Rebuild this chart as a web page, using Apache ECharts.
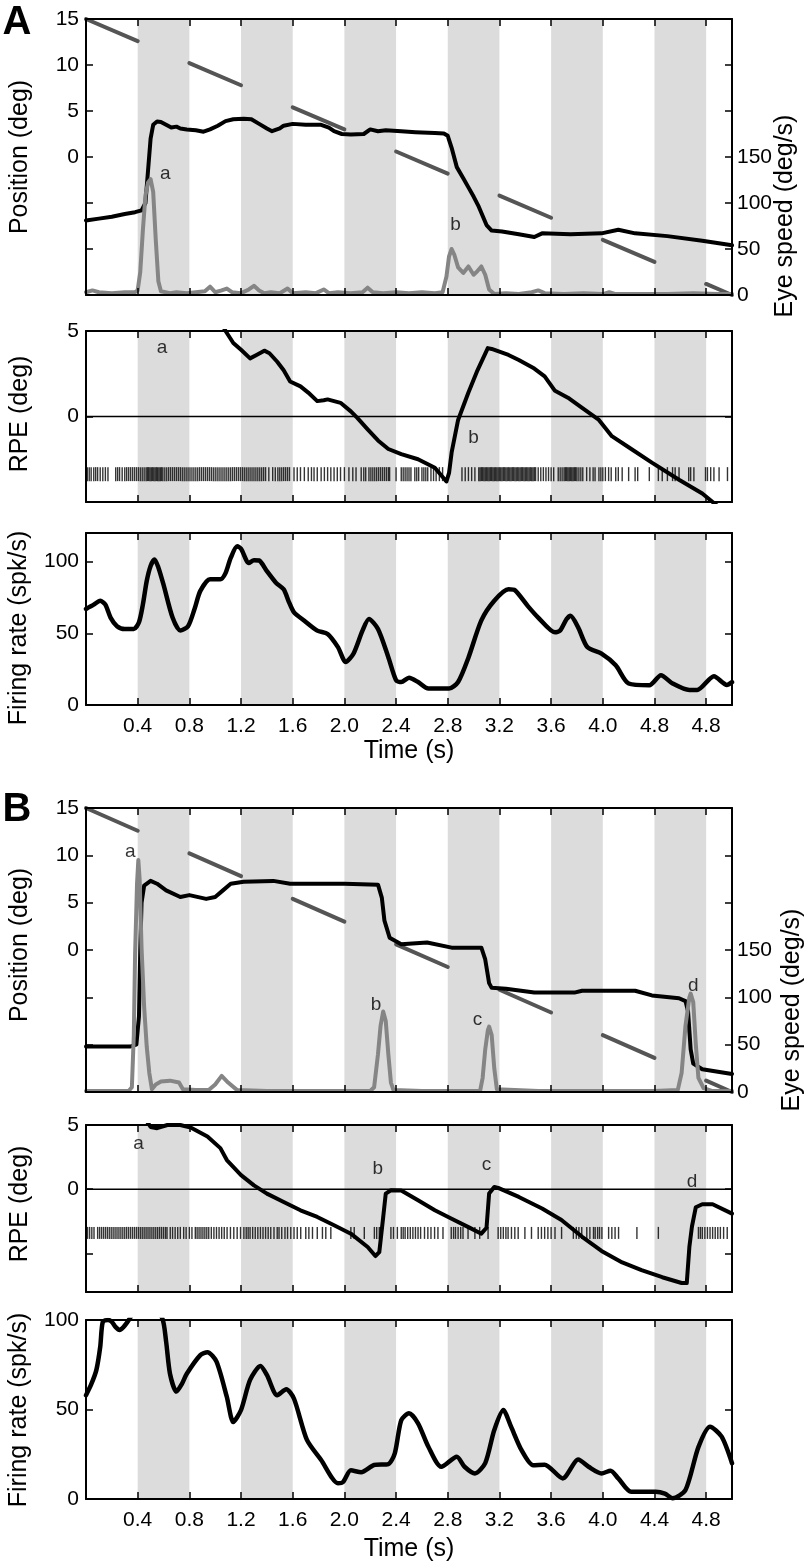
<!DOCTYPE html>
<html><head><meta charset="utf-8">
<script src="https://cdn.jsdelivr.net/npm/echarts@6/dist/echarts.min.js"></script>
<style>html,body{margin:0;padding:0;background:#fff}#c{width:809px;height:1563px}</style>
</head><body><div id="c"></div>
<script>
// ---------------- DATA ----------------
const xTickVals = [0.4,0.8,1.2,1.6,2.0,2.4,2.8,3.2,3.6,4.0,4.4,4.8];
const xLabelsA = ['0.4','0.8','1.2','1.6','2.0','2.4','2.8','3.2','3.6','4.0','4.8','4.8'];
const xLabelsB = ['0.4','0.8','1.2','1.6','2.0','2.4','2.8','3.2','3.6','4.0','4.4','4.8'];
const bands = [[0.4,0.8],[1.2,1.6],[2.0,2.4],[2.8,3.2],[3.6,4.0],[4.4,4.8]];

// target position segments (visible only outside the gray periods)
const targetStartT = [0,0.8,1.6,2.4,3.2,4.0,4.8];
const targetEndT   = [0.4,1.2,2.0,2.8,3.6,4.4,5.0];
const targetStartPos = [15,10.2,5.4,0.6,-4.2,-9.0,-13.8];
const targetEndPos   = [12.6,7.8,3.0,-1.8,-6.6,-11.4,-15];

// ---- Panel A ----
const eyePosA = [[0,-6.9],[0.1,-6.7],[0.2,-6.5],[0.3,-6.2],[0.38,-6.0],[0.43,-5.8],[0.46,-5.0],[0.48,-1.5],[0.50,2.0],[0.52,3.5],[0.55,3.85],[0.58,3.8],[0.62,3.5],[0.66,3.2],[0.70,3.3],[0.73,3.1],[0.78,3.0],[0.85,2.9],[0.91,2.75],[0.96,3.0],[1.02,3.4],[1.08,3.9],[1.14,4.1],[1.22,4.15],[1.28,4.1],[1.34,3.6],[1.40,3.1],[1.44,2.8],[1.50,3.1],[1.53,3.4],[1.60,3.6],[1.70,3.5],[1.82,3.5],[1.88,3.2],[1.92,2.8],[1.98,2.5],[2.05,2.45],[2.15,2.5],[2.20,3.0],[2.26,2.8],[2.32,2.9],[2.44,2.8],[2.55,2.7],[2.70,2.6],[2.77,2.55],[2.80,2.3],[2.83,1.0],[2.87,-1.1],[2.92,-2.3],[2.96,-3.3],[3.00,-4.3],[3.04,-5.4],[3.10,-7.4],[3.14,-8.0],[3.22,-8.1],[3.35,-8.4],[3.47,-8.7],[3.53,-8.3],[3.75,-8.4],[3.99,-8.3],[4.12,-7.9],[4.25,-8.3],[4.50,-8.6],[4.77,-9.1],[5.0,-9.6]];
const eyeSpeedA = [[0,3],[0.05,5],[0.1,3],[0.2,2],[0.3,3],[0.38,3],[0.40,5],[0.42,25],[0.44,70],[0.46,108],[0.48,122],[0.50,126],[0.52,112],[0.54,60],[0.56,15],[0.58,4],[0.65,2],[0.7,3],[0.78,2],[0.85,3],[0.92,4],[0.96,9],[1.0,3],[1.05,5],[1.09,7],[1.13,3],[1.2,2],[1.26,6],[1.30,10],[1.34,5],[1.38,2],[1.43,3],[1.50,2],[1.56,7],[1.60,2],[1.70,3],[1.78,2],[1.84,6],[1.88,2],[1.95,3],[2.05,2],[2.14,3],[2.18,8],[2.22,3],[2.3,2],[2.4,3],[2.5,2],[2.6,3],[2.7,2],[2.76,3],[2.79,20],[2.81,42],[2.83,50],[2.85,44],[2.88,30],[2.92,24],[2.96,31],[3.0,22],[3.03,26],[3.06,31],[3.09,22],[3.12,6],[3.16,1],[3.25,2],[3.35,1],[3.45,3],[3.5,5],[3.55,2],[3.7,1],[3.85,2],[4.0,1],[4.05,3],[4.1,1],[4.3,1],[4.5,1],[4.7,2],[4.9,1],[5.0,1]];
const rpeA = [[1.04,5.6],[1.08,5.0],[1.14,4.3],[1.2,3.9],[1.27,3.4],[1.32,3.6],[1.38,3.85],[1.42,3.7],[1.48,3.2],[1.53,2.7],[1.58,2.05],[1.66,1.76],[1.72,1.4],[1.79,0.9],[1.84,0.95],[1.87,1.0],[1.97,0.8],[2.05,0.3],[2.1,-0.08],[2.18,-0.75],[2.26,-1.4],[2.34,-1.9],[2.44,-2.2],[2.57,-2.5],[2.70,-3.0],[2.79,-3.8],[2.81,-3.3],[2.83,-2.1],[2.88,-0.2],[2.96,1.4],[3.03,2.7],[3.11,4.0],[3.14,3.95],[3.27,3.6],[3.35,3.3],[3.47,2.8],[3.55,2.35],[3.63,1.5],[3.73,1.1],[3.84,0.5],[3.97,-0.2],[4.07,-1.15],[4.2,-1.8],[4.38,-2.7],[4.59,-3.7],[4.77,-4.5],[4.85,-5.0],[4.9,-5.3]];
const spikesA = [0.01,0.025,0.04,0.06,0.075,0.09,0.11,0.13,0.15,0.17,0.23,0.245,0.26,0.28,0.30,0.315,0.33,0.345,0.36,0.375,0.39,0.405,0.42,0.435,0.45,0.465,0.475,0.485,0.495,0.505,0.515,0.525,0.535,0.545,0.555,0.565,0.575,0.585,0.595,0.61,0.625,0.64,0.655,0.67,0.685,0.70,0.715,0.73,0.745,0.76,0.775,0.79,0.805,0.82,0.835,0.85,0.865,0.88,0.895,0.91,0.925,0.94,0.955,0.97,0.985,1.0,1.015,1.03,1.045,1.06,1.075,1.09,1.105,1.12,1.135,1.15,1.165,1.18,1.195,1.21,1.225,1.24,1.255,1.27,1.285,1.30,1.315,1.33,1.345,1.36,1.375,1.39,1.415,1.445,1.465,1.485,1.50,1.515,1.53,1.545,1.56,1.575,1.61,1.635,1.66,1.69,1.72,1.745,1.765,1.79,1.82,1.845,1.87,1.895,1.92,1.945,1.97,2.0,2.035,2.065,2.09,2.13,2.15,2.165,2.19,2.205,2.22,2.235,2.25,2.265,2.28,2.295,2.31,2.325,2.34,2.35,2.40,2.44,2.455,2.47,2.485,2.50,2.515,2.545,2.56,2.575,2.60,2.615,2.63,2.645,2.67,2.69,2.71,2.735,2.76,2.91,2.935,2.96,2.985,3.01,3.04,3.05,3.06,3.07,3.08,3.09,3.10,3.11,3.12,3.13,3.14,3.15,3.16,3.17,3.18,3.19,3.20,3.21,3.22,3.23,3.24,3.25,3.26,3.27,3.28,3.29,3.30,3.31,3.32,3.33,3.34,3.35,3.36,3.37,3.38,3.39,3.40,3.41,3.42,3.43,3.44,3.45,3.46,3.47,3.48,3.50,3.52,3.54,3.56,3.58,3.60,3.62,3.655,3.67,3.685,3.70,3.71,3.72,3.73,3.74,3.75,3.76,3.77,3.78,3.79,3.80,3.815,3.83,3.845,3.875,3.90,3.925,3.94,3.97,3.985,4.0,4.02,4.045,4.065,4.10,4.12,4.15,4.20,4.25,4.27,4.36,4.43,4.46,4.50,4.54,4.56,4.59,4.665,4.68,4.705,4.795,4.81,4.835,4.86,4.90,4.965];
const rateA = [[0,67],[0.06,70],[0.11,72.7],[0.15,70],[0.19,61],[0.24,55],[0.30,53],[0.37,53],[0.41,57.7],[0.44,70],[0.47,86.5],[0.50,97],[0.53,101.5],[0.56,96],[0.6,84],[0.67,61],[0.73,52],[0.79,55],[0.84,67],[0.885,79.6],[0.96,87.7],[1.04,87.7],[1.08,92],[1.12,102.6],[1.17,110.7],[1.2,109],[1.26,99],[1.3,101],[1.34,100.8],[1.4,93.4],[1.47,85.3],[1.53,80.7],[1.57,72],[1.61,64.6],[1.69,58.8],[1.79,51.9],[1.87,49.6],[1.95,40.4],[2.01,30],[2.07,35.8],[2.14,51.9],[2.19,60],[2.26,53],[2.34,33.4],[2.4,17.3],[2.44,16],[2.5,19],[2.57,16],[2.65,11.5],[2.81,11.5],[2.88,16],[2.96,33],[3.06,59],[3.16,72.7],[3.27,80.7],[3.32,80],[3.42,69],[3.5,61],[3.63,50.7],[3.67,52],[3.72,60],[3.75,62.3],[3.81,54],[3.88,40.4],[3.99,35.8],[4.1,27.7],[4.2,15],[4.36,13.8],[4.45,20.8],[4.54,15],[4.67,10.4],[4.73,10.4],[4.86,20],[4.96,14],[5.0,16]];
const annTopALetters = ['a','b'], annTopAT = [0.614,2.86], annTopAY = [-1.8,-7.4];
const annRpeALetters = ['a','b'], annRpeAT = [0.588,3.0], annRpeAY = [4.0,-1.24];

// ---- Panel B ----
const eyePosB = [[0,-10.2],[0.2,-10.2],[0.34,-10.2],[0.39,-10.0],[0.41,-7],[0.42,0],[0.43,5],[0.45,6.8],[0.5,7.3],[0.55,7.0],[0.62,6.3],[0.73,5.6],[0.8,5.8],[0.93,5.4],[1.0,5.6],[1.06,6.3],[1.12,7.0],[1.22,7.2],[1.45,7.3],[1.58,7.0],[2.0,7.0],[2.26,6.9],[2.29,5.5],[2.31,3.1],[2.35,1.3],[2.44,0.6],[2.64,0.8],[2.83,0.25],[3.06,0.25],[3.09,-1.0],[3.12,-3.5],[3.14,-4.0],[3.25,-4.1],[3.47,-4.5],[3.78,-4.5],[3.84,-4.3],[4.25,-4.3],[4.38,-4.8],[4.59,-5.1],[4.64,-5.4],[4.66,-6.5],[4.68,-10.5],[4.70,-12.0],[4.77,-12.6],[5.0,-13.1]];
const eyeSpeedB = [[0,1],[0.2,1],[0.33,1],[0.355,5],[0.37,60],[0.38,146],[0.395,220],[0.405,245],[0.415,225],[0.43,152],[0.45,90],[0.47,48],[0.49,20],[0.51,3],[0.54,8],[0.58,11],[0.65,12],[0.72,10],[0.75,3],[0.85,2],[0.95,2],[1.0,8],[1.05,17],[1.1,10],[1.17,2],[1.4,1],[1.8,1],[2.2,1],[2.23,5],[2.26,40],[2.28,70],[2.30,85],[2.32,75],[2.34,40],[2.36,10],[2.38,2],[2.6,1],[2.9,1],[3.05,1],[3.07,15],[3.09,45],[3.11,65],[3.12,69],[3.14,60],[3.16,25],[3.18,3],[3.5,1],[4.0,1],[4.4,1],[4.58,2],[4.61,20],[4.64,70],[4.67,100],[4.68,104],[4.70,95],[4.72,50],[4.74,15],[4.78,4],[4.85,1],[5.0,1]];
const rpeB = [[0.47,5.3],[0.5,4.85],[0.55,4.75],[0.63,5.0],[0.73,5.0],[0.81,4.8],[0.94,4.1],[1.04,3.2],[1.09,2.27],[1.2,1.1],[1.3,0.3],[1.4,-0.34],[1.53,-1.0],[1.66,-1.64],[1.79,-2.16],[1.92,-2.8],[2.05,-3.46],[2.18,-4.5],[2.24,-5.2],[2.27,-4.9],[2.30,-2.2],[2.32,-0.34],[2.36,-0.08],[2.44,-0.1],[2.57,-0.86],[2.7,-1.64],[2.83,-2.3],[2.96,-2.95],[3.06,-3.46],[3.1,-3.0],[3.12,-0.34],[3.16,0.18],[3.19,0.1],[3.35,-0.6],[3.53,-1.5],[3.68,-2.4],[3.84,-3.7],[3.99,-4.8],[4.15,-5.7],[4.3,-6.3],[4.46,-6.85],[4.61,-7.3],[4.65,-7.3],[4.67,-4.5],[4.69,-2.9],[4.72,-1.4],[4.77,-1.17],[4.85,-1.17],[5.0,-1.9]];
const spikesB = [0.012,0.028,0.045,0.062,0.09,0.105,0.12,0.135,0.15,0.165,0.18,0.195,0.21,0.225,0.24,0.255,0.27,0.285,0.30,0.315,0.33,0.345,0.36,0.375,0.39,0.405,0.42,0.435,0.45,0.465,0.48,0.495,0.51,0.525,0.54,0.555,0.57,0.585,0.60,0.615,0.627,0.652,0.67,0.69,0.71,0.73,0.756,0.775,0.80,0.82,0.846,0.86,0.875,0.89,0.905,0.92,0.935,0.95,0.97,0.99,1.01,1.03,1.05,1.07,1.092,1.118,1.144,1.17,1.196,1.222,1.24,1.255,1.27,1.29,1.31,1.33,1.35,1.37,1.39,1.41,1.43,1.455,1.48,1.494,1.515,1.54,1.56,1.585,1.61,1.635,1.662,1.701,1.725,1.753,1.79,1.83,1.856,1.895,2.05,2.076,2.154,2.232,2.25,2.27,2.36,2.38,2.41,2.44,2.455,2.47,2.49,2.51,2.53,2.55,2.57,2.59,2.62,2.646,2.67,2.698,2.724,2.763,2.827,2.845,2.86,2.88,2.90,2.918,2.957,3.01,3.047,3.112,3.19,3.21,3.23,3.25,3.267,3.293,3.319,3.345,3.397,3.448,3.50,3.525,3.55,3.575,3.60,3.63,3.681,3.772,3.795,3.815,3.837,3.876,3.90,3.928,3.941,3.96,3.975,3.993,4.045,4.07,4.095,4.122,4.264,4.43,4.74,4.755,4.77,4.79,4.81,4.83,4.85,4.87,4.89,4.91,4.935,4.963];
const rateB = [[0,58],[0.04,64],[0.08,72],[0.11,85],[0.13,99],[0.17,100],[0.2,99],[0.23,96],[0.26,94.4],[0.29,96],[0.31,97.8],[0.34,101],[0.4,108],[0.5,108],[0.59,101],[0.62,88],[0.65,70],[0.70,60],[0.74,64],[0.78,70],[0.885,80.4],[0.94,82],[1.01,76.7],[1.09,57],[1.14,43],[1.2,49.7],[1.27,66.5],[1.35,74.3],[1.4,69.3],[1.48,58],[1.55,61.3],[1.61,56],[1.71,33],[1.82,21.8],[1.95,8.8],[1.99,9.5],[2.05,16],[2.13,15],[2.23,19],[2.34,19.5],[2.39,25.5],[2.44,44],[2.5,47.9],[2.57,42.3],[2.65,29.2],[2.75,18],[2.87,23.6],[2.93,18],[3.01,14.3],[3.09,20],[3.16,38.5],[3.23,49.7],[3.29,40.4],[3.37,27.4],[3.46,18.9],[3.55,19.2],[3.69,11.5],[3.81,22],[3.89,18],[3.99,14.3],[4.06,15.8],[4.12,11.5],[4.22,4],[4.41,4],[4.48,3],[4.54,0.4],[4.64,5],[4.74,29],[4.83,40.4],[4.92,34.8],[5.0,20]];
const annTopBLetters = ['a','b','c','d'], annTopBT = [0.342,2.245,3.03,4.70], annTopBY = [10.35,-5.8,-7.4,-3.8];
const annRpeBLetters = ['a','b','c','d'], annRpeBT = [0.406,2.258,3.10,4.69], annRpeBY = [3.57,1.62,1.88,0.57];
const rasterLevelA = -3.37, rasterLevelB = -3.4;

// ---------------- CHART ----------------
const FONT = '"Liberation Sans", Arial, Helvetica, sans-serif';
const gridDefs = [
  {top:19, height:276}, {top:331, height:171}, {top:533, height:172},
  {top:808, height:284}, {top:1125, height:167}, {top:1320, height:179}
];
const grids = gridDefs.map(g => ({left:86, width:646, top:g.top, height:g.height, containLabel:false}));
const xAxes = [], yAxes = [], series = [];

function xAx(gi, pos, labels){
  return {type:'value', gridIndex:gi, min:0, max:5, position:pos, z:10,
    axisLine:{show:true, onZero:false, lineStyle:{color:'#000', width:2}},
    axisTick:{show:true, inside:true, length:7, customValues:xTickVals, lineStyle:{color:'#000', width:1.5}},
    axisLabel:{show:!!labels, customValues:xTickVals, fontSize:21, color:'#000', fontFamily:FONT, margin:11,
      formatter:(v)=>{ if(!labels) return ''; const j = xTickVals.findIndex(t=>Math.abs(t-v)<1e-6); return j>=0?labels[j]:''; }},
    splitLine:{show:false}};
}
function yAx(gi, pos, min, max, tickVals, labelVals){
  return {type:'value', gridIndex:gi, min:min, max:max, position:pos, z:10,
    axisLine:{show:true, onZero:false, lineStyle:{color:'#000', width:2}},
    axisTick:{show:tickVals.length>0, inside:true, length:7, customValues:tickVals, lineStyle:{color:'#000', width:1.5}},
    axisLabel:{show:labelVals.length>0, customValues:labelVals, fontSize:21, color:'#000', fontFamily:FONT, margin:pos==='left'?7:5},
    splitLine:{show:false}};
}
function addBands(xi, yi){
  series.push({type:'line', xAxisIndex:xi, yAxisIndex:yi, data:[], silent:true, z:1, showSymbol:false,
    markArea:{silent:true, itemStyle:{color:'#dcdcdc'}, data: bands.map(b=>[{xAxis:b[0]},{xAxis:b[1]}])}});
}
function line(xi, yi, data, color, w, z, smooth){
  series.push({type:'line', xAxisIndex:xi, yAxisIndex:yi, data:data, showSymbol:false, symbol:'none', clip:true, z:z,
    smooth: smooth || false,
    lineStyle:{color:color, width:w, join:'round', cap:'round'}, silent:true, animation:false});
}
function ann(xi, yi, letters, ts, ys){
  series.push({type:'scatter', xAxisIndex:xi, yAxisIndex:yi, z:8, symbolSize:1, silent:true,
    itemStyle:{color:'rgba(0,0,0,0)'},
    label:{show:true, position:'inside', formatter:p=>p.value[2], fontSize:19, color:'#000', fontFamily:FONT},
    data: letters.map((l,i)=>[ts[i], ys[i], l])});
}
function raster(xi, yi, spikes, level, h){
  series.push({type:'scatter', xAxisIndex:xi, yAxisIndex:yi, z:4, symbol:'rect', symbolSize:[1.4,h], silent:true,
    itemStyle:{color:'#000'}, data: spikes.map(t=>[t, level])});
}

const panels = [
  {base:0, labels:xLabelsA, eyePos:eyePosA, speed:eyeSpeedA, rpe:rpeA, spikes:spikesA, rate:rateA, rpeMin:-5, rpeTicks:[0], rateMax:120, rateTicks:[50,100],
   annTop:[annTopALetters,annTopAT,annTopAY], annRpe:[annRpeALetters,annRpeAT,annRpeAY], level:rasterLevelA, rh:14},
  {base:3, labels:xLabelsB, eyePos:eyePosB, speed:eyeSpeedB, rpe:rpeB, spikes:spikesB, rate:rateB, rpeMin:-8, rpeTicks:[-5,0], rateMax:100, rateTicks:[50],
   annTop:[annTopBLetters,annTopBT,annTopBY], annRpe:[annRpeBLetters,annRpeBT,annRpeBY], level:rasterLevelB, rh:12}
];

panels.forEach(P => {
  const g0 = P.base, g1 = P.base+1, g2 = P.base+2;
  // top plot
  xAxes.push(xAx(g0,'bottom',null)); const xt = xAxes.length-1; xAxes.push(xAx(g0,'top',null));
  yAxes.push(yAx(g0,'left',-15,15,[-10,-5,0,5,10],[0,5,10,15])); const yl = yAxes.length-1;
  yAxes.push(yAx(g0,'right',0,300,[50,100,150,200,250],[0,50,100,150])); const yr = yAxes.length-1;
  addBands(xt, yl);
  for (let i=0;i<targetStartT.length;i++){
    line(xt, yl, [[targetStartT[i],targetStartPos[i]],[targetEndT[i],targetEndPos[i]]], '#555555', 4, 2);
  }
  line(xt, yl, P.eyePos, '#000000', 4, 3);
  line(xt, yr, P.speed, '#858585', 4, 4);
  ann(xt, yl, P.annTop[0], P.annTop[1], P.annTop[2]);
  // RPE plot
  xAxes.push(xAx(g1,'bottom',null)); const xr = xAxes.length-1; xAxes.push(xAx(g1,'top',null));
  yAxes.push(yAx(g1,'left',P.rpeMin,5,P.rpeTicks,[0,5])); const yrl = yAxes.length-1;
  yAxes.push(yAx(g1,'right',P.rpeMin,5,P.rpeTicks,[]));
  addBands(xr, yrl);
  line(xr, yrl, [[0,0],[5,0]], '#000000', 1.5, 2);
  raster(xr, yrl, P.spikes, P.level, P.rh);
  line(xr, yrl, P.rpe, '#000000', 4, 5);
  ann(xr, yrl, P.annRpe[0], P.annRpe[1], P.annRpe[2]);
  // firing rate plot
  xAxes.push(xAx(g2,'bottom',P.labels)); const xf = xAxes.length-1; xAxes.push(xAx(g2,'top',null));
  yAxes.push(yAx(g2,'left',0,P.rateMax,P.rateTicks,[0,50,100])); const yf = yAxes.length-1;
  yAxes.push(yAx(g2,'right',0,P.rateMax,P.rateTicks,[]));
  addBands(xf, yf);
  line(xf, yf, P.rate, '#000000', 4.5, 3, 0.25);
});

function vtext(text, x, y){
  return {type:'text', x:x, y:y, rotation:Math.PI/2, z:20,
    style:{text:text, fontSize:25, fontFamily:FONT, fill:'#000', textAlign:'center', textVerticalAlign:'middle', align:'center', verticalAlign:'middle'}};
}
function htext(text, x, y, size, weight){
  return {type:'text', x:x, y:y, z:20,
    style:{text:text, fontSize:size, fontWeight:weight||'normal', fontFamily:FONT, fill:'#000', textAlign:'center', textVerticalAlign:'middle', align:'center', verticalAlign:'middle'}};
}
const graphic = [
  htext('A', 17, 23, 40, 'bold'), htext('B', 17, 810, 40, 'bold'),
  vtext('Position (deg)', 20, 157), vtext('Eye speed (deg/s)', 785, 216),
  vtext('RPE (deg)', 20, 414), vtext('Firing rate (spk/s)', 19, 628),
  htext('Time (s)', 409, 751, 25),
  vtext('Position (deg)', 20, 945), vtext('Eye speed (deg/s)', 792, 1010),
  vtext('RPE (deg)', 20, 1204), vtext('Firing rate (spk/s)', 19, 1410),
  htext('Time (s)', 409, 1549, 25)
];

const chart = echarts.init(document.getElementById('c'), null, {renderer:'canvas'});
chart.setOption({animation:false, backgroundColor:'#fff', grid:grids, xAxis:xAxes, yAxis:yAxes, series:series, graphic:graphic});
</script></body></html>
